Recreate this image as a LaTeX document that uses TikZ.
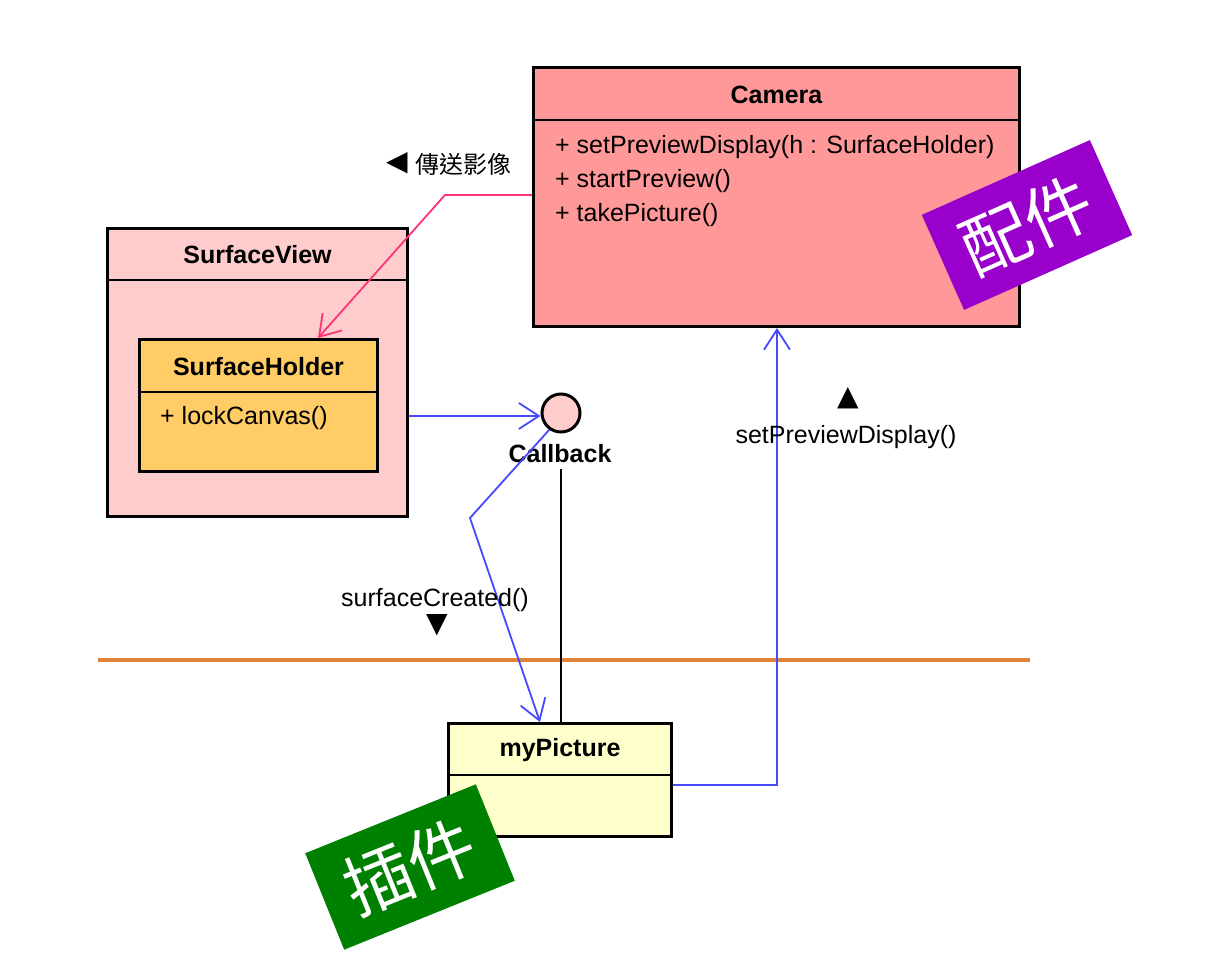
\documentclass[tikz,border=0pt]{standalone}
\usepackage{fontspec}
\setmainfont{Liberation Sans}
\newfontfamily\cjk{Noto Sans CJK TC}
\newfontfamily\symf{DejaVu Sans}
\usetikzlibrary{arrows.meta,calc}
\definecolor{camfill}{HTML}{FF9999}
\definecolor{svfill}{HTML}{FFCCCC}
\definecolor{shfill}{HTML}{FFCC66}
\definecolor{mpfill}{HTML}{FFFFCC}
\definecolor{bluelink}{HTML}{4848FF}
\definecolor{pinklink}{HTML}{FF3377}
\definecolor{orangeline}{HTML}{E0843C}
\definecolor{purpletag}{HTML}{9900CC}
\definecolor{greentag}{HTML}{008000}
\tikzset{
  classbox/.style={draw=black, line width=3pt, rectangle, inner sep=0pt},
  divider/.style={line width=1.5pt},
  ctitle/.style={font=\fontsize{25}{30}\selectfont\bfseries, inner sep=0pt},
  meth/.style={font=\fontsize{25}{30}\selectfont, inner sep=0pt, anchor=west},
  lbl/.style={font=\fontsize{25}{30}\selectfont, inner sep=0pt},
  symb/.style={font=\symf\fontsize{28}{30}\selectfont, inner sep=0pt},
  bluearrow/.style={draw=bluelink, line width=1.8pt, -{Straight Barb[length=20pt,width=26pt]}},
  pinkarrow/.style={draw=pinklink, line width=1.8pt, -{Straight Barb[length=20pt,width=26pt]}},
  tag/.style={inner sep=0pt, minimum width=184pt, minimum height=104pt, text=white,
    font=\cjk\fontsize{68}{68}\selectfont}
}
\begin{document}
\begin{tikzpicture}[x=1pt,y=-1pt]
\useasboundingbox (0,0) rectangle (1208,960);
\fill[white] (0,0) rectangle (1208,960);

% Camera
\node[classbox, fill=camfill, minimum width=486pt, minimum height=259pt] (camera) at (776.5,197) {};
\draw[divider] (camera.west |- 0,120) -- (camera.east |- 0,120);
\node[ctitle] (camt) at (776.5,95) {Camera};
\node[meth] (m1) at (555,147) {+ setPreviewDisplay(h : SurfaceHolder)};
\node[meth] (m2) at (555,181) {+ startPreview()};
\node[meth] (m3) at (555,215) {+ takePicture()};

% SurfaceView
\node[classbox, fill=svfill, minimum width=300pt, minimum height=288pt] (sv) at (257.5,372.5) {};
\draw[divider] (sv.west |- 0,280) -- (sv.east |- 0,280);
\node[ctitle] (svt) at (257.5,255) {SurfaceView};

% SurfaceHolder
\node[classbox, fill=shfill, minimum width=238pt, minimum height=132pt] (sh) at (258.5,405.5) {};
\draw[divider] (sh.west |- 0,392) -- (sh.east |- 0,392);
\node[ctitle] (sht) at (258.5,367) {SurfaceHolder};
\node[meth] (m4) at (160,418) {+ lockCanvas()};

% Callback
\node[circle, draw=black, line width=3pt, fill=svfill, minimum size=38pt, inner sep=0pt] (cb) at (561,413) {};
\node[ctitle] (cbl) at (560,454) {Callback};

% myPicture
\node[classbox, fill=mpfill, minimum width=223pt, minimum height=113pt] (mp) at (560,780) {};
\draw[divider] (mp.west |- 0,775) -- (mp.east |- 0,775);
\node[ctitle] (mpt) at (560,750) {myPicture};

% Separator line
\coordinate (oL) at (98,660);
\coordinate (oR) at (1030,660);
\draw[draw=orangeline, line width=4pt] (oL) -- (oR);

% Connectors
\draw[line width=1.2pt] (cbl.south -| 561,0) ++(0,6) -- (mp.north -| 561,0);
\draw[bluearrow] (sv.east |- 0,416) -- (cb.west |- 0,416);
\coordinate (bend1) at (470,518);
\draw[bluearrow] (cb.235) -- (bend1) -- (mp.north -| 540,0);
\coordinate (bend2) at (777,785);
\draw[bluearrow] (mp.east |- 0,785) -- (bend2) -- (camera.south -| 777,0);
\coordinate (bend3) at (445,195);
\draw[pinkarrow] (camera.west |- 0,195) -- (bend3) -- (sh.north -| 318,0);

% Labels
\node[lbl] (scl) at (435,600) {surfaceCreated()};
\node[symb] (scs) at (437,625) {▼};
\node[lbl] (spl) at (846,437) {setPreviewDisplay()};
\node[symb] (sps) at (848,398) {▲};
\node[symb, anchor=west] (tx1) at (386,163) {◀};
\node[font=\cjk\fontsize{24}{26}\selectfont, inner sep=0pt, anchor=west] (tx2) at (415,164) {傳送影像};

% Tags
\node[tag, fill=purpletag, rotate=24] (tagA) at (1027,225) {配件};
\node[tag, fill=greentag, rotate=22] (tagB) at (410,867) {插件};
\end{tikzpicture}
\end{document}
